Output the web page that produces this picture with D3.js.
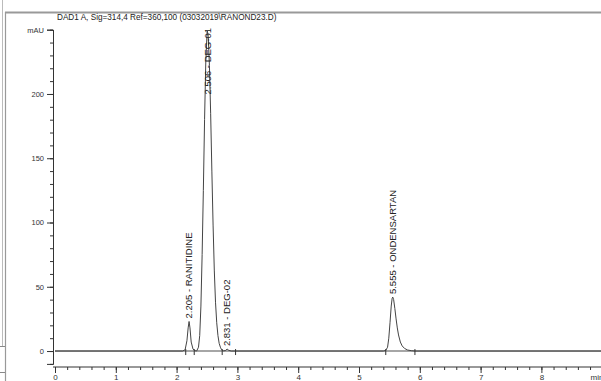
<!DOCTYPE html>
<html>
<head>
<meta charset="utf-8">
<script src="https://cdn.jsdelivr.net/npm/d3@7"></script>
<style>
  body { margin: 0; background: #fff; }
  svg { display: block; font-family: "Liberation Sans", Arial, sans-serif; }
</style>
</head>
<body>
<div id="chart"></div>
<script>
// signal trace (time in min, absorbance in mAU)
const traceTime = [
  0, 2.10, 2.14, 2.17, 2.19, 2.205, 2.22, 2.24, 2.27, 2.30,
  2.33, 2.36, 2.38, 2.40, 2.42, 2.44, 2.46, 2.48, 2.50, 2.506, 2.52, 2.54, 2.56, 2.58,
  2.60, 2.62, 2.64, 2.66, 2.68, 2.70, 2.72, 2.74, 2.77, 2.80, 2.831, 2.86, 2.90,
  5.40, 5.44, 5.47, 5.49, 5.51, 5.53, 5.545, 5.555, 5.57, 5.59, 5.61, 5.63, 5.65,
  5.68, 5.71, 5.75, 5.80, 5.86, 5.92, 9.2
]
const traceValue = [
  0, 0, 1, 8, 18, 23, 18, 7, 1.5, 0.3,
  0, 3, 12, 35, 75, 125, 180, 225, 247, 249, 245, 222, 185, 140,
  98, 63, 38, 22, 12, 6, 3, 1, 0.2, 0.3, 1.5, 0.5, 0,
  0, 0.5, 3, 10, 22, 35, 41, 42, 40, 33, 25, 18, 12.5,
  7, 4, 2, 0.8, 0.3, 0, 0
]

// peak annotations
const peakTimes = [2.205, 2.506, 2.831, 5.555]
const peakHeights = [23, 249, 1.5, 42]
const peakNames = ["RANITIDINE", "DEG-01", "DEG-02", "ONDENSARTAN"]

// integration start / end markers
const markerTimes = [2.15, 2.29, 2.75, 2.97, 5.44, 5.92]

const xMajorTicks = [0, 1, 2, 3, 4, 5, 6, 7, 8]
const yMajorTicks = [0, 50, 100, 150, 200, 250]

const title = "DAD1 A, Sig=314,4 Ref=360,100 (03032019\\RANOND23.D)"

const width = 601, height = 381

const svg = d3.select("#chart").append("svg")
  .attr("width", width)
  .attr("height", height)

const x = d3.scaleLinear().domain([0, 9]).range([55, 602.2])
const y = d3.scaleLinear().domain([-10, 250]).range([363.9, 29.7])

// window frame bits
const frame = svg.append("g").attr("stroke", "#999").attr("fill", "none")
frame.append("line").attr("x1", 5.5).attr("x2", 5.5).attr("y1", 12).attr("y2", 381).attr("stroke-width", 1.2)
frame.append("line").attr("x1", 5).attr("x2", 601).attr("y1", 12.5).attr("y2", 12.5).attr("stroke-width", 2)
frame.append("line").attr("x1", 2.5).attr("x2", 2.5).attr("y1", 0).attr("y2", 346).attr("stroke", "#bbb")
frame.append("line").attr("x1", 0).attr("x2", 5).attr("y1", 346.5).attr("y2", 346.5).attr("stroke", "#888")
frame.append("line").attr("x1", 0).attr("x2", 5).attr("y1", 372.5).attr("y2", 372.5).attr("stroke", "#888")

svg.append("text")
  .attr("x", 57)
  .attr("y", 20)
  .attr("font-size", 8.2)
  .attr("fill", "#222")
  .text(title)

// y axis
const yAxis = svg.append("g").attr("transform", "translate(53,0)")
yAxis.call(d3.axisLeft(y).tickValues(d3.range(-10, 251, 10)).tickSize(3).tickFormat("").tickSizeOuter(0))
yAxis.append("g").call(d3.axisLeft(y).tickValues(yMajorTicks).tickSize(6)
  .tickFormat(d => d === 250 ? "mAU" : d))
yAxis.selectAll("path.domain").attr("stroke", "#333")
yAxis.selectAll(".tick line").attr("stroke", "#333")
yAxis.selectAll("text").attr("font-size", 7.5).attr("fill", "#333")
  .attr("font-family", "Liberation Sans, Arial, sans-serif").attr("x", -9)

// x axis
const xAxis = svg.append("g").attr("transform", "translate(0,367)")
xAxis.call(d3.axisBottom(x).tickValues(d3.range(0, 9, 0.2)).tickSize(3).tickFormat("").tickSizeOuter(0))
xAxis.append("g").call(d3.axisBottom(x).tickValues(xMajorTicks).tickSize(6).tickFormat(d3.format("d")))
xAxis.selectAll("path.domain").remove()
xAxis.append("line").attr("x1", 53).attr("x2", 601).attr("stroke", "#333")
xAxis.selectAll(".tick line").attr("stroke", "#333")
xAxis.selectAll("text").attr("font-size", 8).attr("fill", "#333")
  .attr("font-family", "Liberation Sans, Arial, sans-serif").attr("y", 7)
xAxis.append("text")
  .attr("x", 597)
  .attr("y", 7)
  .attr("dy", "0.71em")
  .attr("font-size", 8)
  .attr("fill", "#333")
  .text("min")

// integration baseline
svg.append("line")
  .attr("x1", x(0)).attr("x2", width)
  .attr("y1", y(0)).attr("y2", y(0))
  .attr("stroke", "#888")
  .attr("stroke-width", 1.6)

// signal
const line = d3.line()
  .x((d, i) => x(traceTime[i]))
  .y(d => y(d))

svg.append("path")
  .datum(traceValue)
  .attr("d", line)
  .attr("fill", "none")
  .attr("stroke", "#444")
  .attr("stroke-width", 1)

svg.selectAll("line.marker")
  .data(markerTimes)
  .join("line")
    .attr("class", "marker")
    .attr("x1", d => x(d)).attr("x2", d => x(d))
    .attr("y1", y(0) - 2).attr("y2", y(0) + 4)
    .attr("stroke", "#333")

// peak labels, rotated, sitting above each apex
const labels = svg.selectAll("text.peak")
  .data(peakTimes)
  .join("text")
    .attr("class", "peak")
    .attr("font-size", 9.5)
    .attr("fill", "#222")
    .attr("dy", "0.35em")
    .text((d, i) => d.toFixed(3) + " -  " + peakNames[i])

labels.each(function(d, i) {
  const len = this.getComputedTextLength()
  let top = y(peakHeights[i]) - 3
  if (top - len < 28) top = 28 + len
  d3.select(this).attr("transform", "translate(" + x(d) + "," + top + ") rotate(-90)")
})
</script>
</body>
</html>
